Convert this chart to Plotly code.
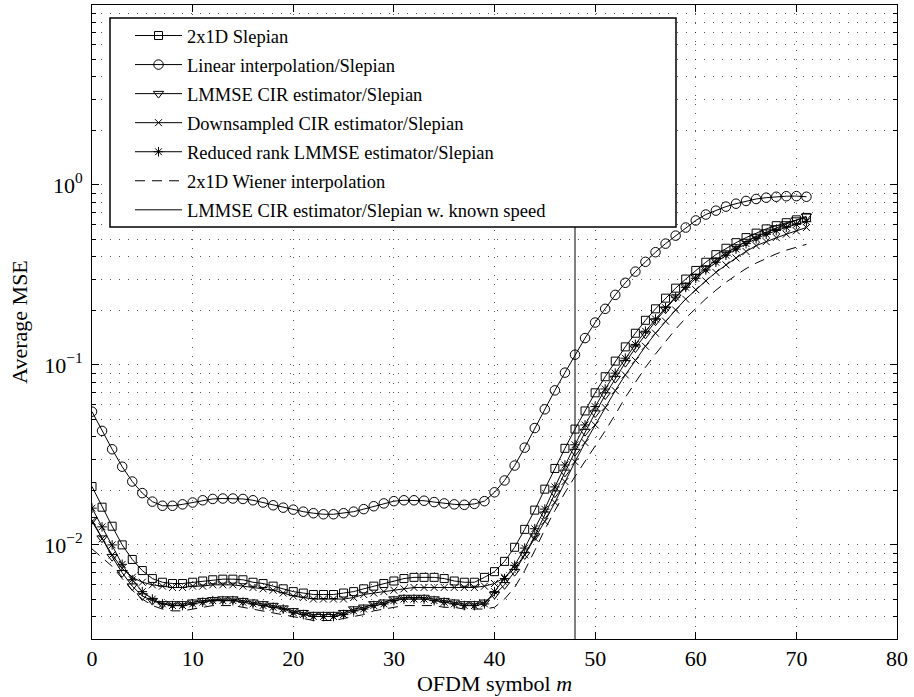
import plotly.graph_objects as go

# ---------------- data ----------------
m = list(range(72))

mse_2x1d_slepian = [
    0.0211, 0.0162, 0.0127, 0.0100, 0.0083, 0.0072, 0.0065, 0.0062, 0.0061, 0.0061,
    0.0062, 0.0063, 0.0064, 0.00645, 0.00645, 0.0064, 0.0062, 0.0061, 0.0059, 0.0057,
    0.0055, 0.0054, 0.0053, 0.0053, 0.0053, 0.0054, 0.0055, 0.0057, 0.0059, 0.0061,
    0.0063, 0.0065, 0.0066, 0.0066, 0.0066, 0.0065, 0.0063, 0.0062, 0.0062, 0.0066,
    0.0071, 0.0081, 0.0097, 0.0122, 0.0156, 0.0204, 0.0266, 0.0344, 0.044, 0.0555,
    0.070, 0.086, 0.105, 0.126, 0.150, 0.177, 0.205, 0.235, 0.267, 0.300,
    0.335, 0.372, 0.410, 0.445, 0.478, 0.510, 0.540, 0.570, 0.594, 0.617,
    0.640, 0.660]

mse_linear_slepian = [
    0.055, 0.043, 0.034, 0.0272, 0.0225, 0.0194, 0.0174, 0.0165, 0.0165, 0.0168,
    0.0172, 0.0177, 0.0180, 0.0181, 0.0181, 0.0180, 0.0177, 0.0172, 0.0166, 0.0161,
    0.0157, 0.0153, 0.0150, 0.0148, 0.0148, 0.0150, 0.0153, 0.0158, 0.0164, 0.0170,
    0.0175, 0.0177, 0.0177, 0.0176, 0.0173, 0.0170, 0.0168, 0.0167, 0.0169, 0.0175,
    0.0196, 0.0228, 0.0276, 0.0347, 0.0446, 0.0567, 0.0722, 0.0906, 0.114, 0.141,
    0.172, 0.205, 0.245, 0.286, 0.330, 0.374, 0.423, 0.472, 0.523, 0.580,
    0.635, 0.685, 0.720, 0.758, 0.787, 0.815, 0.836, 0.850, 0.860, 0.866,
    0.867, 0.860]

mse_lmmse_cir = [
    0.0138, 0.0109, 0.0086, 0.0070, 0.0059, 0.0052, 0.0049, 0.0047, 0.0047, 0.0047,
    0.0048, 0.0049, 0.00495, 0.0050, 0.0050, 0.0049, 0.0048, 0.0047, 0.0046, 0.00445,
    0.0043, 0.0042, 0.0041, 0.0041, 0.0041, 0.0042, 0.0044, 0.0045, 0.0047, 0.0048,
    0.0050, 0.0051, 0.0051, 0.0051, 0.0050, 0.0049, 0.0048, 0.0047, 0.0047, 0.0048,
    0.0053, 0.0060, 0.0071, 0.0088, 0.0112, 0.0148, 0.0194, 0.0253, 0.0330, 0.0426,
    0.054, 0.068, 0.084, 0.103, 0.124, 0.148, 0.175, 0.204, 0.238, 0.275,
    0.310, 0.345, 0.382, 0.418, 0.452, 0.485, 0.517, 0.547, 0.577, 0.607,
    0.638, 0.670]

mse_downsampled_cir = [
    0.0135, 0.0108, 0.0088, 0.0074, 0.0066, 0.0062, 0.0060, 0.0059, 0.0058, 0.0058,
    0.0059, 0.0059, 0.0060, 0.0060, 0.0060, 0.0059, 0.0058, 0.0057, 0.0056, 0.0054,
    0.0052, 0.0051, 0.0050, 0.0050, 0.0050, 0.0050, 0.0051, 0.0053, 0.0054, 0.0055,
    0.0056, 0.0057, 0.0058, 0.0058, 0.0058, 0.0058, 0.0058, 0.0058, 0.0058, 0.0059,
    0.0061, 0.0066, 0.0074, 0.0088, 0.0109, 0.0135, 0.0172, 0.0225, 0.0290, 0.0370,
    0.0464, 0.058, 0.072, 0.088, 0.106, 0.127, 0.150, 0.175, 0.202, 0.232,
    0.262, 0.293, 0.327, 0.360, 0.393, 0.427, 0.460, 0.484, 0.510, 0.533,
    0.556, 0.580]

mse_reduced_rank = [
    0.0160, 0.0126, 0.0100, 0.0078, 0.0064, 0.0055, 0.0050, 0.0047, 0.0046, 0.0046,
    0.0047, 0.0048, 0.0049, 0.0049, 0.0049, 0.0048, 0.0047, 0.0046, 0.0045, 0.0044,
    0.0042, 0.0041, 0.0040, 0.0040, 0.0040, 0.0041, 0.0043, 0.0044, 0.0046, 0.0047,
    0.0049, 0.0050, 0.0050, 0.0050, 0.0049, 0.0048, 0.0047, 0.0046, 0.0046, 0.0047,
    0.0055, 0.0065, 0.0077, 0.0096, 0.0123, 0.0158, 0.0210, 0.0278, 0.0360, 0.0464,
    0.0587, 0.0735, 0.090, 0.109, 0.130, 0.154, 0.180, 0.208, 0.238, 0.270,
    0.303, 0.337, 0.372, 0.407, 0.440, 0.472, 0.503, 0.532, 0.558, 0.582,
    0.604, 0.625]

mse_wiener = [
    0.0095, 0.0085, 0.0076, 0.0065, 0.0056, 0.0050, 0.0046, 0.0044, 0.0043, 0.0043,
    0.0044, 0.0045, 0.0046, 0.0046, 0.0046, 0.0045, 0.0044, 0.0043, 0.0042, 0.0041,
    0.0040, 0.0039, 0.0038, 0.0038, 0.0038, 0.0039, 0.0040, 0.0041, 0.0043, 0.0044,
    0.0045, 0.0046, 0.0046, 0.0046, 0.0046, 0.0045, 0.0045, 0.0044, 0.0044, 0.0044,
    0.0045, 0.0050, 0.0058, 0.0072, 0.0093, 0.0122, 0.0155, 0.0195, 0.0240, 0.0290,
    0.035, 0.043, 0.053, 0.066, 0.080, 0.097, 0.115, 0.135, 0.158, 0.182,
    0.207, 0.233, 0.260, 0.288, 0.315, 0.343, 0.368, 0.392, 0.414, 0.434,
    0.452, 0.468]

known_speed_m = [48, 48]
known_speed_mse = [0.003, 1.0]

x_ticks = [0, 10, 20, 30, 40, 50, 60, 70, 80]
y_ticks = [0.01, 0.1, 1]
y_ticktext = ["10<sup>\u22122</sup>", "10<sup>\u22121</sup>", "10<sup>0</sup>"]
y_minor = [k * 10.0 ** e for e in (-3, -2, -1, 0) for k in range(2, 10)]

# ---------------- figure ----------------
FONT = "Liberation Serif, Times New Roman, serif"
W, H = 914, 697
ML, MR, MT, MB = 92, 17, 5, 58
PW, PH = W - ML - MR, H - MT - MB


def px_x(px):
    return (px - ML) / PW


def px_y(py):
    return 1 - (py - MT) / PH


fig = go.Figure()

series = [
    ("2x1D Slepian", mse_2x1d_slepian, "square-open", 8, "solid", "lines+markers"),
    ("Linear interpolation/Slepian", mse_linear_slepian, "circle-open", 9.5, "solid", "lines+markers"),
    ("LMMSE CIR estimator/Slepian", mse_lmmse_cir, "triangle-down-open", 9, "solid", "lines+markers"),
    ("Downsampled CIR estimator/Slepian", mse_downsampled_cir, "x-thin-open", 7, "solid", "lines+markers"),
    ("Reduced rank LMMSE estimator/Slepian", mse_reduced_rank, "asterisk-open", 8, "solid", "lines+markers"),
    ("2x1D Wiener interpolation", mse_wiener, "circle", 1, "10px,7px", "lines"),
]
for name, yv, sym, size, dash, mode in series:
    fig.add_trace(go.Scatter(
        x=m, y=yv, name=name, mode=mode, legendgroup=name,
        line=dict(color="black", width=1, dash=dash),
        marker=dict(symbol=sym, size=size, color="black",
                    line=dict(color="black", width=1)),
    ))

fig.add_trace(go.Scatter(
    x=known_speed_m, y=known_speed_mse, mode="lines",
    name="LMMSE CIR estimator/Slepian w. known speed",
    legendgroup="known", line=dict(color="black", width=1),
))

grid_col = "rgba(0,0,0,0.65)"
grid_dash = "1px,8px"

fig.update_layout(
    width=W, height=H,
    margin=dict(l=ML, r=MR, t=MT, b=MB, pad=0),
    paper_bgcolor="white", plot_bgcolor="white",
    font=dict(family=FONT, color="black", size=22),
    showlegend=True,
    legend=dict(
        x=px_x(130), y=px_y(17), xanchor="left", yanchor="top",
        bgcolor="rgba(0,0,0,0)", borderwidth=0,
        font=dict(family=FONT, size=18.5, color="black"),
        traceorder="grouped", tracegroupgap=2, itemwidth=47,
    ),
    shapes=[dict(
        type="rect", xref="paper", yref="paper",
        x0=px_x(110), x1=px_x(676), y0=px_y(227), y1=px_y(18),
        line=dict(color="black", width=1.5), fillcolor="white", layer="above",
    )],
    xaxis=dict(
        range=[0, 80], tickmode="array", tickvals=x_ticks,
        ticks="inside", ticklen=7, tickcolor="black", tickwidth=1,
        showline=True, linecolor="black", linewidth=1, mirror="ticks",
        showgrid=True, gridcolor=grid_col, griddash=grid_dash, gridwidth=1,
        zeroline=False,
        tickfont=dict(family=FONT, size=22, color="black"),
        title=dict(text="OFDM symbol <i>m</i>", font=dict(family=FONT, size=22), standoff=2),
    ),
    yaxis=dict(
        type="log", range=[-2.5229, 1.0],
        tickmode="array", tickvals=y_ticks, ticktext=y_ticktext,
        ticks="inside", ticklen=7, tickcolor="black", tickwidth=1,
        showline=True, linecolor="black", linewidth=1, mirror="ticks",
        showgrid=True, gridcolor=grid_col, griddash=grid_dash, gridwidth=1,
        zeroline=False, ticklabelstandoff=4,
        tickfont=dict(family=FONT, size=22, color="black"),
        title=dict(text="Average MSE", font=dict(family=FONT, size=22), standoff=10),
        minor=dict(
            tickmode="array", tickvals=y_minor,
            ticks="inside", ticklen=4, tickcolor="black", tickwidth=1,
            showgrid=True, gridcolor=grid_col, griddash=grid_dash, gridwidth=1,
        ),
    ),
)

fig.write_html("out.html")
